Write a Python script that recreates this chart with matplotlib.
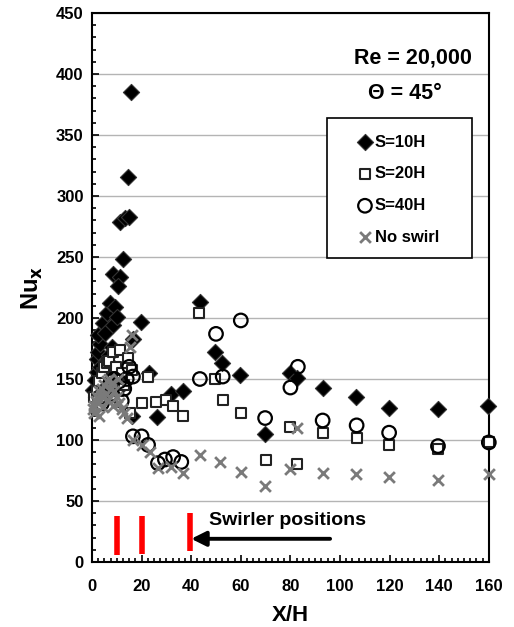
import matplotlib
matplotlib.use('Agg')
import matplotlib.pyplot as plt
from matplotlib.patches import Rectangle
from matplotlib.ticker import MultipleLocator

plt.rcParams['font.family'] = ['Liberation Sans', 'DejaVu Sans']
plt.rcParams['font.weight'] = 'bold'

# S=10H (filled diamonds)
s10_x = [0.5, 1.2, 1.9, 1.9, 2.4, 3.2, 2.4, 4.4, 5.2, 6.5, 5.9, 7.3, 8.5, 9.3, 10.0,
         8.5, 11.3, 10.4, 12.4, 11.3, 13.3, 15.0, 14.6, 15.6, 16.5, 16.0, 19.7,
         3.2, 1.5, 4.0, 6.0, 7.0, 8.0, 5.0, 9.5, 12.0,
         23.0, 26.3, 32.0, 36.5, 43.5, 49.6, 52.3, 59.7, 69.8, 79.8, 82.5,
         93.0, 106.5, 119.8, 139.5, 159.7]
s10_y = [141, 149, 156, 166, 172, 179, 186, 196, 188, 203, 204, 212, 194, 209, 201,
         236, 234, 226, 248, 279, 282, 283, 316, 385, 183, 120, 197,
         160, 135, 150, 165, 170, 176, 142, 155, 145,
         155, 119, 138, 140, 213, 172, 163, 153, 105, 155, 151,
         143, 135, 126, 125, 128]

# S=20H (open squares)
s20_x = [1.0, 2.0, 3.0, 4.0, 5.0, 6.0, 7.0, 8.5, 9.5, 10.5, 11.3, 12.0, 13.0, 14.5,
         15.3, 16.0, 20.0, 22.6, 26.0, 30.0, 32.5, 36.7, 43.3, 49.6, 52.7, 60.0,
         70.0, 80.0, 82.7, 93.0, 106.7, 119.8, 139.5, 160.0]
s20_y = [135, 140, 148, 155, 160, 163, 165, 172, 160, 140, 174, 155, 145, 167,
         122, 157, 130, 152, 131, 133, 128, 120, 204, 150, 133, 122,
         84, 111, 80, 106, 102, 96, 93, 98]

# S=40H (open circles)
s40_x = [3.0, 4.0, 5.0, 7.0, 8.0, 9.0, 11.0, 12.0, 13.0, 14.0, 15.0, 16.5, 16.5,
         20.0, 22.6, 26.6, 29.4, 32.7, 36.0, 43.5, 50.0, 52.7, 60.0, 69.8, 80.0,
         83.0, 93.0, 106.7, 119.8, 139.5, 160.0]
s40_y = [135, 130, 140, 145, 138, 150, 148, 132, 142, 150, 160, 152, 103,
         103, 96, 81, 84, 86, 82, 150, 187, 152, 198, 118, 143,
         160, 116, 112, 106, 95, 98]

# No swirl (crosses)
ns_x = [0.5, 1.0, 1.0, 1.5, 2.0, 2.5, 3.0, 3.0, 3.5, 4.0, 4.5, 5.0, 5.5, 6.0, 6.5,
        7.0, 7.5, 8.0, 8.5, 9.0, 10.0, 10.5, 11.0, 12.0, 13.0, 14.0, 15.5, 16.0,
        16.5, 20.0, 23.4, 26.6, 32.0, 36.7, 43.5, 51.6, 60.0, 69.8, 80.0, 82.7,
        93.0, 106.5, 119.8, 139.5, 160.0]
ns_y = [125, 128, 122, 132, 135, 130, 140, 120, 136, 142, 127, 145, 138, 148, 133,
        150, 142, 147, 128, 140, 135, 150, 130, 125, 122, 118, 176, 186,
        100, 96, 90, 77, 78, 73, 88, 82, 74, 62, 76, 110,
        73, 72, 70, 67, 72]

# swirler positions (X/H) and bar extents
swirl_x = [10, 20, 39.5]
swirl_lo = [6, 6.5, 9]
swirl_hi = [38, 38, 40]

fig = plt.figure(figsize=(5.14, 6.27), dpi=100)
ax = fig.add_axes([0.179, 0.1037, 0.772, 0.8755])

ax.scatter(s10_x, s10_y, marker='D', s=68, c='black', edgecolors='#333333',
           linewidths=0.8, label='S=10H', zorder=3, clip_on=False)
ax.scatter(s20_x, s20_y, marker='s', s=60, facecolors='white', edgecolors='#222222',
           linewidths=1.5, label='S=20H', zorder=4, clip_on=False)
ax.scatter(s40_x, s40_y, marker='o', s=95, facecolors='none', edgecolors='black',
           linewidths=1.6, label='S=40H', zorder=5, clip_on=False)
ax.scatter(ns_x, ns_y, marker='x', s=60, c='#7a7a7a', linewidths=2.0,
           label='No swirl', zorder=6, clip_on=False)

# red swirler bars
ax.vlines(swirl_x, swirl_lo, swirl_hi, colors='red', linewidth=4.0, zorder=3)
ax.annotate('', xy=(40, 19), xytext=(96, 19),
            arrowprops=dict(arrowstyle='-|>', color='black', lw=2.8,
                            mutation_scale=22, shrinkA=0, shrinkB=0))
ax.text(47, 34, 'Swirler positions', fontsize=14, fontweight='bold',
        va='center', ha='left')

ax.text(0.957, 0.918, 'Re = 20,000', transform=ax.transAxes, fontsize=15.5,
        fontweight='bold', ha='right', va='center')
ax.text(0.788, 0.854, '\u0398 = 45\u00b0', transform=ax.transAxes, fontsize=15.5,
        fontweight='bold', ha='center', va='center')

ax.set_xlim(0, 160)
ax.set_ylim(0, 450)
ax.xaxis.set_major_locator(MultipleLocator(20))
ax.xaxis.set_minor_locator(MultipleLocator(2.5))
ax.yaxis.set_major_locator(MultipleLocator(50))
ax.yaxis.set_minor_locator(MultipleLocator(10))
ax.grid(axis='y', which='major', color='#b4b4b4', linewidth=1.0, zorder=0)
ax.set_axisbelow(True)
ax.tick_params(which='both', direction='in', labelsize=12, width=1.2)
ax.tick_params(which='major', length=5)
ax.tick_params(which='minor', length=3)
for lab in ax.get_xticklabels() + ax.get_yticklabels():
    lab.set_fontweight('bold')
ax.tick_params(axis='x', pad=12)
ax.tick_params(axis='y', pad=6)
for sp in ax.spines.values():
    sp.set_linewidth(1.5)
    sp.set_color('black')

ax.set_xlabel('X/H', fontsize=16, fontweight='bold', labelpad=8)
ax.set_ylabel('Nu$_\\mathbf{x}$', fontsize=17, fontweight='bold', labelpad=8)

# legend box drawn separately so its size matches the original
ax.add_patch(Rectangle((0.592, 0.554), 0.365, 0.255, transform=ax.transAxes,
                       facecolor='white', edgecolor='black', linewidth=1.2,
                       zorder=7, clip_on=False))
leg = ax.legend(loc='center', bbox_to_anchor=(0.773, 0.678), borderaxespad=0,
                frameon=False, prop={'size': 12, 'weight': 'bold'},
                labelspacing=1.0, handlelength=0.8, handletextpad=0.2,
                borderpad=0.3, markerscale=1.0, scatterpoints=1)
leg.set_zorder(8)

fig.savefig('out.png', dpi=100)
